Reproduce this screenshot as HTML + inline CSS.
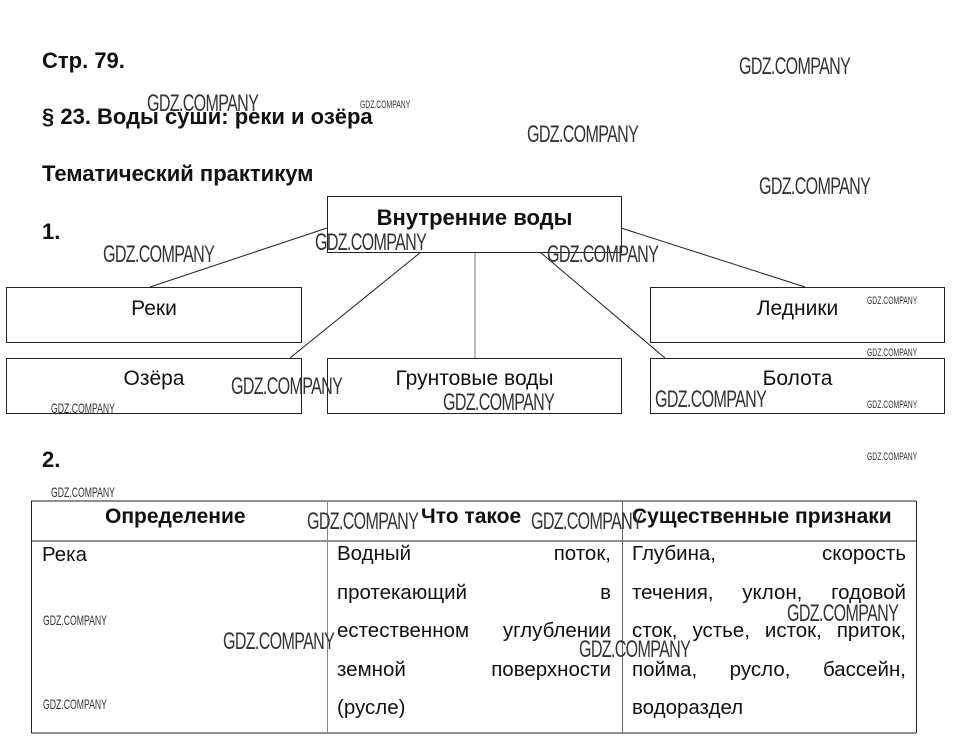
<!DOCTYPE html><html><head><meta charset="utf-8"><style>
body{margin:0;width:958px;height:750px;background:#fff;position:relative;font-family:"Liberation Sans",sans-serif;color:#111;overflow:hidden}
.a{position:absolute;white-space:nowrap}
.b{font-weight:bold;font-size:22px}
.box{position:absolute;border:1px solid #222;box-sizing:border-box;text-align:center;font-size:21px}
.w{position:absolute;font-size:24px;color:#333;transform:scaleX(0.67);transform-origin:0 0;white-space:nowrap;letter-spacing:-1px}
.ws{position:absolute;font-size:11px;color:#333;transform:scaleX(0.62);transform-origin:0 0;white-space:nowrap}
.c{position:absolute;font-size:20.5px;line-height:38.5px;width:274px}
.c div{text-align:justify;text-align-last:justify;white-space:nowrap}
.c div.l{text-align-last:left}
</style></head><body>
<div class="a b" style="left:42px;top:48px">Стр. 79.</div>
<div class="a b" style="left:42px;top:104px">§ 23. Воды суши: реки и озёра</div>
<div class="a b" style="left:42px;top:161px">Тематический практикум</div>
<div class="a b" style="left:42px;top:219px">1.</div>
<div class="a b" style="left:42px;top:447px">2.</div>
<svg style="position:absolute;left:0;top:0" width="958" height="750">
<g stroke="#222" stroke-width="1">
<line x1="327" y1="228" x2="150" y2="287"/><line x1="621" y1="228" x2="805" y2="287"/>
<line x1="421" y1="252" x2="290" y2="358"/><line x1="540" y1="252" x2="665" y2="358"/>
<line x1="475" y1="252" x2="475" y2="358" stroke="#777"/>
<line x1="31" y1="501" x2="916" y2="501"/><line x1="31" y1="541" x2="916" y2="541"/>
<line x1="31" y1="733" x2="916" y2="733"/><line x1="31.5" y1="501" x2="31.5" y2="733"/>
<line x1="916.5" y1="501" x2="916.5" y2="733"/><line x1="327.5" y1="501" x2="327.5" y2="733" stroke="#888"/>
<line x1="622.5" y1="501" x2="622.5" y2="733" stroke="#666"/></g></svg>
<div class="box" style="left:327px;top:196px;width:295px;height:57px;font-weight:bold;font-size:22px;padding-top:8px;background:#fff">Внутренние воды</div>
<div class="box" style="left:6px;top:287px;width:296px;height:56px;padding-top:9px">Реки</div>
<div class="box" style="left:650px;top:287px;width:295px;height:56px;padding-top:9px">Ледники</div>
<div class="box" style="left:6px;top:358px;width:296px;height:56px;padding-top:8px">Озёра</div>
<div class="box" style="left:327px;top:358px;width:295px;height:56px;padding-top:8px">Грунтовые воды</div>
<div class="box" style="left:650px;top:358px;width:295px;height:56px;padding-top:8px">Болота</div>
<div class="a b" style="left:105px;top:505px;font-size:21px">Определение</div>
<div class="a b" style="left:421px;top:505px;font-size:21px">Что такое</div>
<div class="a b" style="left:632px;top:505px;font-size:21px">Существенные признаки</div>
<div class="a" style="left:42px;top:543px;font-size:20.5px">Река</div>
<div class="c" style="left:337px;top:535px"><div>Водный поток,</div><div>протекающий в</div><div>естественном углублении</div><div>земной поверхности</div><div class="l">(русле)</div></div>
<div class="c" style="left:632px;top:535px"><div>Глубина, скорость</div><div>течения, уклон, годовой</div><div>сток, устье, исток, приток,</div><div>пойма, русло, бассейн,</div><div class="l">водораздел</div></div>
<div class="w" style="left:739px;top:53px">GDZ.COMPANY</div>
<div class="w" style="left:147px;top:90px">GDZ.COMPANY</div>
<div class="ws" style="left:360px;top:99px">GDZ.COMPANY</div>
<div class="w" style="left:527px;top:121px">GDZ.COMPANY</div>
<div class="w" style="left:759px;top:173px">GDZ.COMPANY</div>
<div class="w" style="left:103px;top:241px">GDZ.COMPANY</div>
<div class="w" style="left:315px;top:229px">GDZ.COMPANY</div>
<div class="w" style="left:547px;top:241px">GDZ.COMPANY</div>
<div class="ws" style="left:867px;top:295px">GDZ.COMPANY</div>
<div class="ws" style="left:867px;top:347px">GDZ.COMPANY</div>
<div class="ws" style="left:867px;top:399px">GDZ.COMPANY</div>
<div class="ws" style="left:867px;top:451px">GDZ.COMPANY</div>
<div class="w" style="left:231px;top:373px">GDZ.COMPANY</div>
<div class="w" style="left:443px;top:389px">GDZ.COMPANY</div>
<div class="w" style="left:655px;top:386px">GDZ.COMPANY</div>
<div class="ws" style="left:51px;top:400px;font-size:14px">GDZ.COMPANY</div>
<div class="ws" style="left:51px;top:484px;font-size:14px">GDZ.COMPANY</div>
<div class="w" style="left:307px;top:508px">GDZ.COMPANY</div>
<div class="w" style="left:531px;top:508px">GDZ.COMPANY</div>
<div class="ws" style="left:43px;top:612px;font-size:14px">GDZ.COMPANY</div>
<div class="ws" style="left:43px;top:696px;font-size:14px">GDZ.COMPANY</div>
<div class="w" style="left:223px;top:628px">GDZ.COMPANY</div>
<div class="w" style="left:579px;top:636px">GDZ.COMPANY</div>
<div class="w" style="left:787px;top:600px">GDZ.COMPANY</div>
</body></html>
